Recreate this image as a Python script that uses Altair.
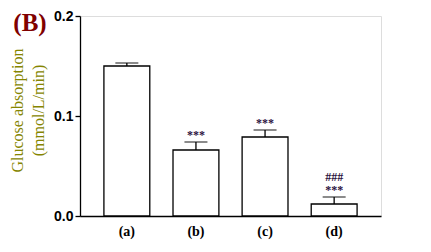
import altair as alt
import pandas as pd

groups = ["(a)", "(b)", "(c)", "(d)"]
means = [0.150, 0.066, 0.079, 0.012]
sems = [0.003, 0.008, 0.007, 0.007]
stars = ["", "***", "***", "***"]
hashes = ["", "", "", "###"]

df = pd.DataFrame({
    "group": groups,
    "mean": means,
    "sem": sems,
    "stars": stars,
    "hashes": hashes,
})
df["upper"] = df["mean"] + df["sem"]

x = alt.X("group:N", sort=groups,
          scale=alt.Scale(paddingInner=0.336, paddingOuter=0.346),
          axis=alt.Axis(title=None, labelAngle=0, ticks=False, domainColor="black",
                        domainWidth=1.3, labelFont="Liberation Serif", labelFontWeight="bold",
                        labelFontSize=14, labelColor="black", labelPadding=8))
y = alt.Y("mean:Q", scale=alt.Scale(domain=[0, 0.2], nice=False),
          axis=alt.Axis(values=[0, 0.1, 0.2], format=".1f", grid=False,
                        title=["Glucose absorption", "(mmol/L/min)"],
                        titleFont="Liberation Serif", titleFontSize=16, titleFontWeight="normal",
                        titleColor="#858500", titleAngle=-90, titleAlign="center",
                        titleBaseline="alphabetic", titleX=-58, titleY=94, titleLineHeight=21,
                        labelFont="Liberation Sans", labelFontWeight="bold", labelFontSize=14,
                        labelColor="black", labelPadding=2, tickSize=5, tickColor="black",
                        tickWidth=1.3, domainColor="black", domainWidth=1.3))

base = alt.Chart(df)

bars = base.mark_bar(fill="white", stroke="black", strokeWidth=1.3).encode(x=x, y=y)
err = base.mark_rule(color="black", strokeWidth=1.3).encode(
    x=alt.X("group:N", sort=groups), y="mean:Q", y2="upper:Q")
caps = base.mark_tick(color="black", thickness=1.3, size=23, orient="horizontal").encode(
    x=alt.X("group:N", sort=groups), y="upper:Q")
star_text = base.mark_text(font="Liberation Serif", fontWeight="bold", fontSize=12,
                           color="#2a1040", baseline="middle", dy=-7).encode(
    x=alt.X("group:N", sort=groups), y="upper:Q", text="stars:N")
hash_text = base.mark_text(font="Liberation Serif", fontWeight="bold", fontSize=12,
                           color="#2a1040", baseline="middle", dy=-20).encode(
    x=alt.X("group:N", sort=groups), y="upper:Q", text="hashes:N")

panel = alt.Chart(pd.DataFrame({"t": ["(B)"]})).mark_text(
    font="Liberation Serif", fontWeight="bold", fontSize=25, color="#800000",
    baseline="middle", align="center").encode(
    text="t:N", x=alt.value(-50), y=alt.value(7))

chart = alt.layer(bars, err, caps, star_text, hash_text, panel).properties(
    width=301, height=200,
    autosize=alt.AutoSizeParams(type="none"),
    padding={"left": 72, "top": 8, "right": 42, "bottom": 28},
).configure_view(stroke=None).configure(background="white")

chart.save("out.html", embed_options={"renderer": "svg", "actions": False})
